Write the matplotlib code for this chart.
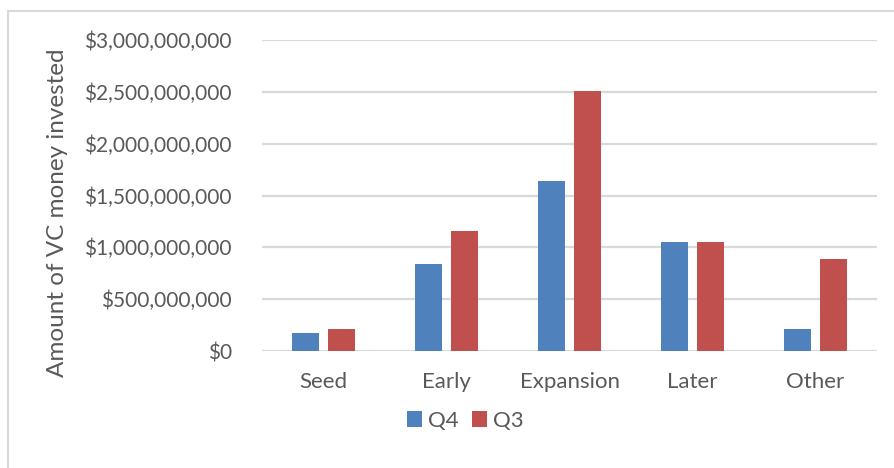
import matplotlib.pyplot as plt
import numpy as np
from matplotlib.lines import Line2D
from matplotlib.ticker import FuncFormatter

# data
stages = ["Seed", "Early", "Expansion", "Later", "Other"]
q4 = [171e6, 842e6, 1640e6, 1054e6, 212e6]
q3 = [209e6, 1155e6, 2505e6, 1054e6, 885e6]

plt.rcParams['font.family'] = ['Lato', 'DejaVu Sans']
text_color = '#595959'
grid_color = '#D9D9D9'

fig = plt.figure(figsize=(8.94, 4.68), dpi=100)
ax = fig.add_axes([262 / 894, 1 - 351 / 468, 615 / 894, 311 / 468])

x = np.arange(len(stages))
width = 0.224
off = 0.148
ax.bar(x - off, q4, width, color='#4F81BD', label='Q4', zorder=3)
ax.bar(x + off, q3, width, color='#C0504D', label='Q3', zorder=3)

ax.set_xlim(-0.5, len(stages) - 0.5)
ax.set_ylim(0, 3e9)
ax.set_yticks(np.arange(0, 3.01e9, 5e8))
ax.yaxis.set_major_formatter(FuncFormatter(lambda v, p: f'${v:,.0f}'))
ax.grid(axis='y', color=grid_color, linewidth=1.6, zorder=0)
ax.set_axisbelow(True)
for s in ax.spines.values():
    s.set_visible(False)
ax.tick_params(length=0, colors=text_color)
ax.tick_params(axis='y', pad=21.6, labelsize=15)
ax.tick_params(axis='x', pad=15, labelsize=16)
ax.set_xticks(x)
ax.set_xticklabels(stages)

fig.text(58 / 894, 1 - 213 / 468, 'Amount of VC money invested', rotation=90,
         ha='center', va='center', fontsize=17.5, color=text_color)

leg = fig.legend(loc='center', bbox_to_anchor=(465 / 894, 1 - 421 / 468),
                 ncol=2, frameon=False, fontsize=16, handlelength=0.7,
                 handleheight=0.7, handletextpad=0.25, columnspacing=0.6)
for t in leg.get_texts():
    t.set_color(text_color)

# chart border (only top and left visible)
fig.add_artist(Line2D([7.5 / 894, 1], [1 - 10.5 / 468] * 2, color=grid_color, lw=1.5))
fig.add_artist(Line2D([7.5 / 894] * 2, [0, 1 - 10.5 / 468], color=grid_color, lw=1.5))

fig.savefig('out.png', dpi=100)
